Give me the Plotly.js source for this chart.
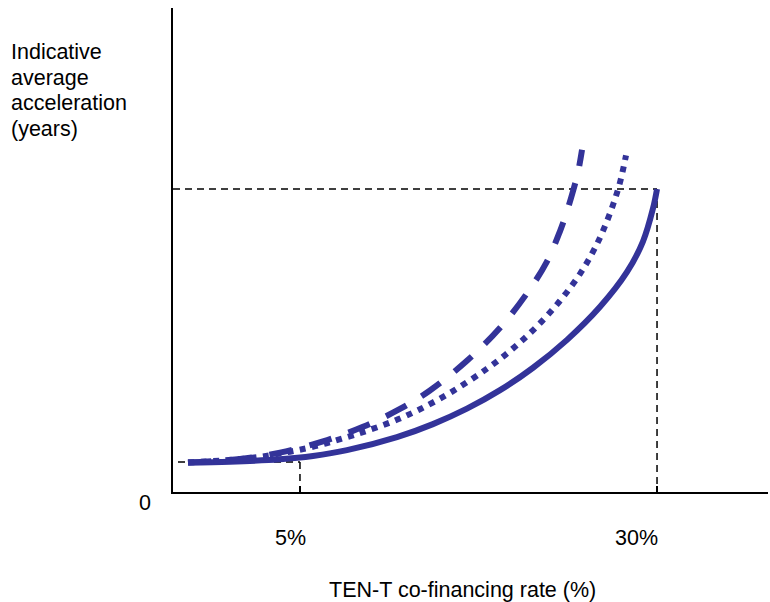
<!DOCTYPE html>
<html>
<head>
<meta charset="utf-8">
<script src="https://cdn.plot.ly/plotly-3.0.1.min.js"></script>
<style>html,body{margin:0;padding:0;background:#fff;}#chart{width:770px;height:602px;}</style>
</head>
<body>
<div id="chart"></div>
<script>
// Co-financing rate (%) and indicative acceleration (arbitrary years scale)
const solidX = [-2.84, 0.10, 3.60, 5.91, 8.29, 11.79, 14.31, 16.69, 19.01, 21.32, 23.70, 26.01, 27.90, 29.02, 29.72, 30.00];
const solidY = [0.97, 1.00, 1.08, 1.19, 1.38, 1.81, 2.24, 2.75, 3.36, 4.10, 5.02, 6.11, 7.26, 8.27, 9.36, 10.0];
const dotX   = [-2.84, 1.50, 4.30, 6.40, 8.29, 9.69, 11.51, 13.40, 15.71, 18.10, 19.92, 21.60, 23.21, 24.61, 25.52, 26.22, 26.92, 27.41, 27.83];
const dotY   = [0.97, 1.12, 1.33, 1.55, 1.81, 2.02, 2.33, 2.73, 3.33, 4.07, 4.74, 5.47, 6.31, 7.20, 7.93, 8.62, 9.48, 10.22, 11.11];
const dashX  = [-2.84, 0.80, 3.60, 6.61, 9.41, 12.00, 14.10, 16.69, 19.01, 20.90, 22.30, 23.21, 23.70, 24.12, 24.47, 24.75];
const dashY  = [0.97, 1.09, 1.30, 1.67, 2.15, 2.74, 3.35, 4.33, 5.42, 6.56, 7.61, 8.61, 9.27, 9.93, 10.56, 11.29];
// reference markers
const refX = [5, 30];
const refY = [0.99, 10.0];
const tickLabels = ['5%', '30%'];
const xRange = [-3.89, 37.77];
const yRange = [0, 15.97];
const yTitleLines = ['Indicative', 'average', 'acceleration', '(years)'];

const col = '#333399';
const font = 'Liberation Sans, Arial, Helvetica, sans-serif';
const fs = 21.5;

const traces = [
  {x: solidX, y: solidY, mode: 'lines', line: {color: col, width: 6, shape: 'spline', smoothing: 1}, hoverinfo: 'skip'},
  {x: dotX, y: dotY, mode: 'lines', line: {color: col, width: 6, dash: '6px,6.5px', shape: 'spline', smoothing: 1}, hoverinfo: 'skip'},
  {x: dashX, y: dashY, mode: 'lines', line: {color: col, width: 6, dash: '23px,18px', shape: 'spline', smoothing: 1}, hoverinfo: 'skip'}
];

const refLine = {color: '#000', width: 1.5, dash: '7px,5px'};
const shapes = [];
refX.forEach((rx, i) => {
  const ry = refY[i];
  shapes.push({type: 'line', xref: 'x', yref: 'y', x0: xRange[0] + (i === 0 ? 0.35 : 0), x1: rx, y0: ry, y1: ry,
    line: refLine, layer: 'below'});
  shapes.push({type: 'line', xref: 'x', yref: 'y', x0: rx, x1: rx, y0: ry, y1: 0,
    line: refLine, layer: 'below'});
});

const annotations = [];
tickLabels.forEach((t, i) => {
  annotations.push({x: refX[i], xref: 'x', y: 0, yref: 'y', text: t, showarrow: false,
    xanchor: 'right', yanchor: 'middle', xshift: i === 0 ? 8 : 3, yshift: -46,
    font: {family: font, size: fs, color: '#000'}});
});
annotations.push({x: 0, xref: 'paper', y: 0, yref: 'y', text: '0', showarrow: false,
  xanchor: 'center', yanchor: 'middle', xshift: -28, yshift: -11,
  font: {family: font, size: fs, color: '#000'}});
yTitleLines.forEach((t, i) => {
  annotations.push({x: 0, xref: 'paper', y: 1, yref: 'paper', text: t, showarrow: false,
    xanchor: 'left', yanchor: 'middle', xshift: -164, yshift: -44 - i * 25.7,
    font: {family: font, size: fs, color: '#000'}});
});
annotations.push({x: 0.5, xref: 'paper', y: 0, yref: 'paper', text: 'TEN-T co-financing rate (%)',
  showarrow: false, xanchor: 'center', yanchor: 'middle', xshift: -8, yshift: -98,
  font: {family: font, size: fs, color: '#000'}});

const layout = {
  width: 770, height: 602,
  margin: {l: 173, r: 2, t: 8, b: 110, pad: 0},
  paper_bgcolor: '#fff', plot_bgcolor: '#fff',
  showlegend: false,
  xaxis: {range: xRange, showgrid: false, zeroline: false, showline: true, linecolor: '#000', linewidth: 2,
    tickvals: refX, ticks: 'inside', ticklen: 6, tickwidth: 1.5, tickcolor: '#000', showticklabels: false, fixedrange: true},
  yaxis: {range: yRange, showgrid: false, zeroline: false, showline: true, linecolor: '#000', linewidth: 2,
    ticks: '', showticklabels: false, fixedrange: true},
  shapes: shapes,
  annotations: annotations
};

Plotly.newPlot('chart', traces, layout, {displayModeBar: false, staticPlot: true});
</script>
</body>
</html>
